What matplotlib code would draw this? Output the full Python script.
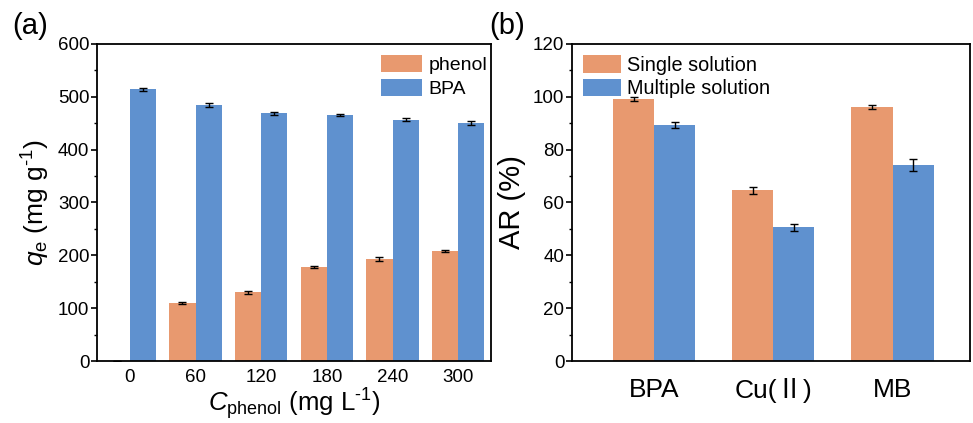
import matplotlib
matplotlib.use("Agg")
import matplotlib.pyplot as plt
import numpy as np
from matplotlib.ticker import MultipleLocator

plt.rcParams['font.family'] = ['Liberation Sans', 'Noto Sans CJK SC', 'DejaVu Sans']
plt.rcParams['mathtext.fontset'] = 'custom'
plt.rcParams['mathtext.rm'] = 'Liberation Sans'
plt.rcParams['mathtext.it'] = 'Liberation Sans:italic'
plt.rcParams['mathtext.bf'] = 'Liberation Sans:bold'

# ---- data panel (a)
conc = ['0', '60', '120', '180', '240', '300']
phenol = [0, 109.6, 130.4, 177.7, 192.8, 208]
phenol_err = [0, 2.0, 3.0, 2.0, 3.5, 2.5]
bpa = [514, 484.6, 468.5, 466, 457, 450.5]
bpa_err = [3.0, 4.0, 2.5, 1.5, 2.0, 3.5]

# ---- data panel (b)
pollutants = ['BPA', 'Cu(Ⅱ)', 'MB']
single = [99.2, 64.6, 96.2]
single_err = [0.7, 1.4, 0.7]
multiple = [89.4, 50.6, 74.2]
multiple_err = [1.1, 1.4, 2.2]

orange = '#E8996F'
blue = '#5F91CF'

fig = plt.figure(figsize=(9.73, 4.23), dpi=100)
ax1 = fig.add_axes([97/973, 62/423, 394/973, 317/423])
ax2 = fig.add_axes([572/973, 62/423, 398/973, 317/423])

tick_fs = 13.5
err_kw = dict(ecolor='black', elinewidth=1.0, capsize=3, capthick=1.0)

# panel (a)
x = np.arange(len(conc))
w = 0.4
ax1.bar(x - w/2, phenol, w, color=orange, label='phenol',
        yerr=[e if v > 0 else 0 for v, e in zip(phenol, phenol_err)], error_kw=err_kw)
ax1.bar(x + w/2, bpa, w, color=blue, label='BPA', yerr=bpa_err, error_kw=err_kw)
ax1.set_xlim(-0.5, 5.5)
ax1.set_ylim(0, 600)
ax1.set_xticks(x)
ax1.set_xticklabels(conc)
ax1.yaxis.set_major_locator(MultipleLocator(100))
ax1.yaxis.set_minor_locator(MultipleLocator(50))
ax1.set_xlabel(r'$C_\mathregular{phenol}$ (mg L$^{\text{-1}}$)', fontsize=18.5, labelpad=0)
ax1.set_ylabel(r'$q_\mathregular{e}$ (mg g$^{\text{-1}}$)', fontsize=19, labelpad=4)
ax1.legend(loc='upper right', frameon=False, fontsize=14, handlelength=2.1,
           handleheight=1.0, labelspacing=0.25, handletextpad=0.35,
           borderaxespad=0.15, bbox_to_anchor=(1.018, 1.0))

# panel (b)
xb = np.arange(len(pollutants))
wb = 0.345
ax2.bar(xb - wb/2, single, wb, color=orange, label='Single solution',
        yerr=single_err, error_kw=err_kw)
ax2.bar(xb + wb/2, multiple, wb, color=blue, label='Multiple solution',
        yerr=multiple_err, error_kw=err_kw)
ax2.set_xlim(-0.69, 2.65)
ax2.set_ylim(0, 120)
ax2.set_xticks(xb)
ax2.set_xticklabels(pollutants, fontsize=19)
ax2.yaxis.set_major_locator(MultipleLocator(20))
ax2.yaxis.set_minor_locator(MultipleLocator(10))
ax2.set_ylabel('AR (%)', fontsize=21, labelpad=5)
ax2.legend(loc='upper left', frameon=False, fontsize=14.3, handlelength=1.9,
           handleheight=1.0, labelspacing=0.2, handletextpad=0.3,
           borderaxespad=0.15)

for ax in (ax1, ax2):
    for s in ax.spines.values():
        s.set_linewidth(1.3)
    ax.tick_params(axis='y', which='major', direction='out', length=4, width=1.2,
                   labelsize=tick_fs, pad=1.5)
    ax.tick_params(axis='y', which='minor', direction='out', length=2, width=1.0)
    ax.tick_params(axis='x', length=0)
ax1.tick_params(axis='x', labelsize=tick_fs, pad=6)
ax2.tick_params(axis='x', pad=12)

fig.text(12/973, 1 - 26/423, '(a)', fontsize=21, va='center', ha='left')
fig.text(489/973, 1 - 26/423, '(b)', fontsize=21, va='center', ha='left')

fig.savefig('out.png', dpi=100, facecolor='white')
